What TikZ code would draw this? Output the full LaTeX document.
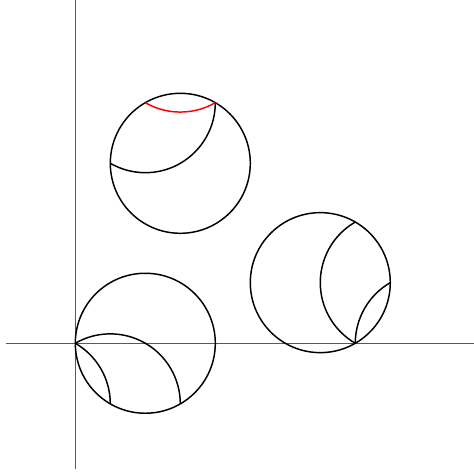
\documentclass[tikz,border=0pt]{standalone}
\usetikzlibrary{calc}
\begin{document}
\begin{tikzpicture}[x=52.5pt,y=52.5pt,
  axis/.style={draw=black!65,line width=0.7pt},
  circ/.style={draw=black,line width=1.1pt},
  redarc/.style={draw=red,line width=1.1pt}]
\useasboundingbox (-1.076,-1.839) rectangle (5.696,4.904);
% axes
\coordinate (xl) at (-0.99,0);
\coordinate (xr) at (5.696,0);
\coordinate (yb) at (0,-1.79);
\coordinate (yt) at (0,4.904);
\draw[axis] (xl) -- (xr);
\draw[axis] (yb) -- (yt);
% circle 1
\coordinate (O) at (0,0);
\coordinate (C1) at (1,0);
\draw[circ] (C1) circle[radius=1];
\draw[circ] (O) arc[start angle=120,end angle=0,radius=1];
\draw[circ] (O) arc[start angle=60,end angle=0,radius=1];
% circle 2
\coordinate (C2) at (1.5,2.571);
\coordinate (T60) at ($(C2)+(0.5,0.866)$);
\draw[circ] (C2) circle[radius=1];
\draw[circ] (T60) arc[start angle=0,end angle=-120,radius=1];
\draw[redarc] (T60) arc[start angle=-60,end angle=-120,radius=1];
% circle 3
\coordinate (C3) at (3.5,0.866);
\coordinate (R60) at ($(C3)+(0.5,0.866)$);
\coordinate (Rm60) at ($(C3)+(0.5,-0.866)$);
\draw[circ] (C3) circle[radius=1];
\draw[circ] (R60) arc[start angle=120,end angle=240,radius=1];
\draw[circ] (Rm60) arc[start angle=180,end angle=120,radius=1];
\end{tikzpicture}
\end{document}
